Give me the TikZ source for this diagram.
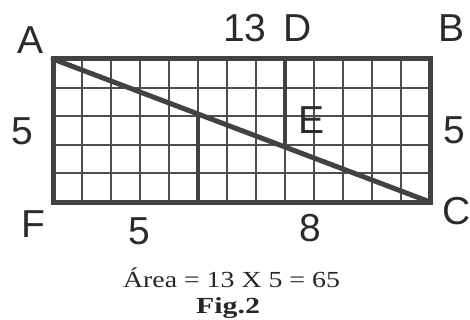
\documentclass[tikz,border=0pt]{standalone}
\usepackage{fontspec}
\setmainfont{Liberation Serif}
\newfontfamily\labfont{Liberation Sans}
\usetikzlibrary{calc}
\definecolor{inkdark}{HTML}{424242}
\definecolor{inkgrid}{HTML}{4D4D4D}
\definecolor{inktext}{HTML}{2B2B2B}
\tikzset{
  border/.style={draw=inkdark, line width=5pt, line join=miter},
  gridline/.style={draw=inkgrid, line width=1.9pt},
  thickline/.style={draw=inkdark, line width=4.5pt},
  diag/.style={draw=inkdark, line width=5pt, line cap=round},
  lab/.style={inner sep=0pt, text=inktext, font=\labfont\fontsize{39}{40}\selectfont},
  captiontext/.style={inner sep=0pt, text=black!85, anchor=base},
}
\begin{document}
\begin{tikzpicture}[x=1pt,y=-1pt]
\useasboundingbox (0,0) rectangle (470,320);
% corners
\coordinate (A) at (53,59);
\coordinate (B) at (430,59);
\coordinate (C) at (430,202);
\coordinate (F) at (53,202);
% grid
\foreach \i in {1,...,12} {
  \draw[gridline] ($(A)!\i/13!(B)$) -- ($(F)!\i/13!(C)$);
}
\foreach \j in {1,...,4} {
  \draw[gridline] ($(A)!\j/5!(F)$) -- ($(B)!\j/5!(C)$);
}
% thick segments
\coordinate (D) at ($(A)!8/13!(B)$);
\coordinate (Dd) at ($(A)!8/13!(C)$);
\coordinate (G) at ($(F)!5/13!(C)$);
\coordinate (Gd) at ($(A)!5/13!(C)$);
\draw[thickline] (D) -- (Dd);
\draw[thickline] (Gd) -- (G);
\draw[diag] (A) -- (C);
\draw[border] (A) rectangle (C);
% labels
\node[lab] (lA) at (31,40) {A};
\node[lab] (l13) at (245,28) {13};
\node[lab] (lD) at (298,28) {D};
\node[lab] (lB) at (451,28) {B};
\node[lab] (l5a) at (22,131) {5};
\node[lab] (lE) at (312,120) {E};
\node[lab] (l5b) at (454,130) {5};
\node[lab] (lF) at (33,224) {F};
\node[lab] (l5c) at (139,231) {5};
\node[lab] (l8) at (310,228) {8};
\node[lab] (lC) at (457,211) {C};
\node[captiontext] (area) at (231.5,287) {\scalebox{1.21}[1]{\fontsize{23}{24}\selectfont Área = 13 X 5 = 65}};
\node[captiontext] (fig) at (228,313) {\scalebox{1.3}[1]{\fontsize{23}{24}\selectfont\bfseries Fig.2}};
\end{tikzpicture}
\end{document}
